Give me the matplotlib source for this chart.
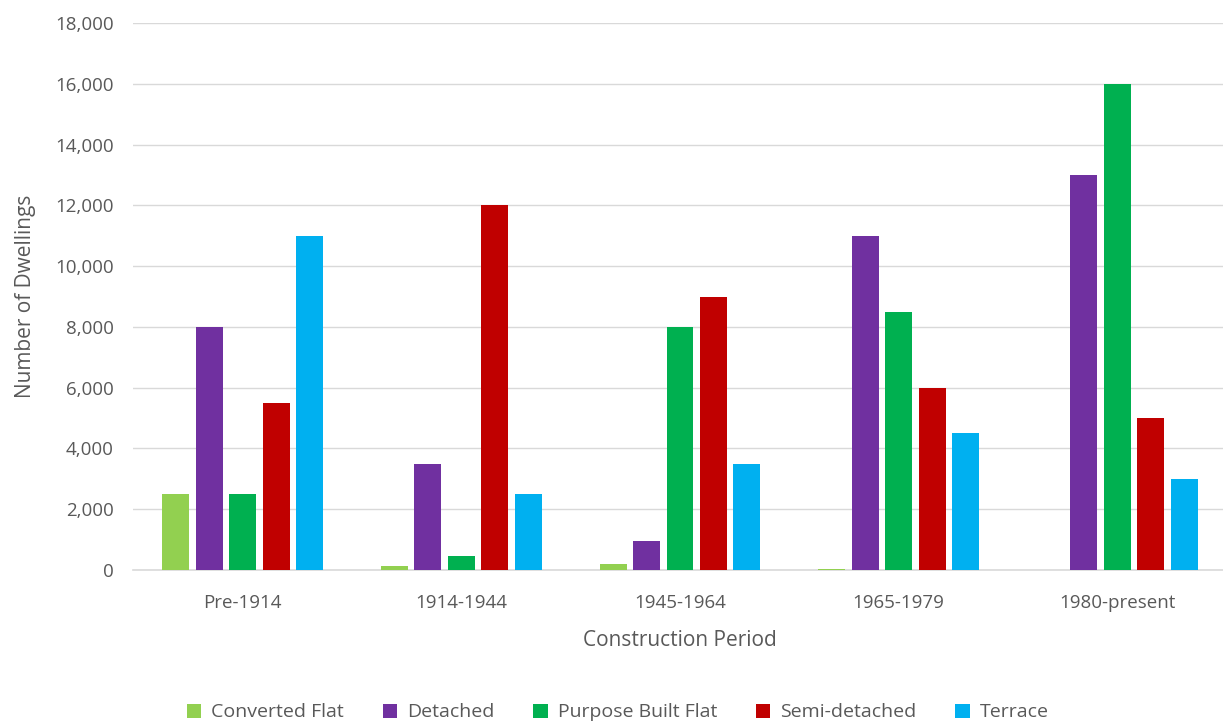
import matplotlib
matplotlib.use("Agg")
import matplotlib.pyplot as plt
import numpy as np
from matplotlib.ticker import FuncFormatter

periods = ["Pre-1914", "1914-1944", "1945-1964", "1965-1979", "1980-present"]
converted_flat = [2500, 130, 200, 30, 0]
detached = [8000, 3500, 950, 11000, 13000]
purpose_built_flat = [2500, 450, 8000, 8500, 16000]
semi_detached = [5500, 12000, 9000, 6000, 5000]
terrace = [11000, 2500, 3500, 4500, 3000]

series = [
    ("Converted Flat", converted_flat, "#92D050"),
    ("Detached", detached, "#7030A0"),
    ("Purpose Built Flat", purpose_built_flat, "#00B050"),
    ("Semi-detached", semi_detached, "#C00000"),
    ("Terrace", terrace, "#00B0F0"),
]

plt.rcParams["font.family"] = ["Open Sans", "DejaVu Sans"]
text_color = "#595959"

fig = plt.figure(figsize=(12.23, 7.23), dpi=100)
ax = fig.add_axes([0.109, 0.2116, 0.894, 0.7564])

x = np.arange(len(periods))
width = 0.123
step = 0.153
for i, (name, vals, color) in enumerate(series):
    ax.bar(x + (i - 2) * step, vals, width=width, color=color, label=name, zorder=3)

ax.set_xlim(-0.5, len(periods) - 0.5)
ax.set_ylim(0, 18000)
ax.set_yticks(np.arange(0, 18001, 2000))
ax.yaxis.set_major_formatter(FuncFormatter(lambda v, p: f"{int(v):,}"))
ax.set_xticks(x)
ax.set_xticklabels(periods)
ax.grid(axis="y", color="#D9D9D9", linewidth=1, zorder=0)
for s in ["top", "right", "left"]:
    ax.spines[s].set_visible(False)
ax.spines["bottom"].set_color("#D9D9D9")
ax.spines["bottom"].set_linewidth(1.2)
ax.tick_params(axis="both", length=0, labelsize=13.5, colors=text_color)
ax.tick_params(axis="y", pad=14)
ax.tick_params(axis="x", pad=17)

ax.set_ylabel("Number of Dwellings", fontsize=15, color=text_color, labelpad=14)
ax.set_xlabel("Construction Period", fontsize=15, color=text_color, labelpad=13)

fig.legend(loc="lower center", bbox_to_anchor=(0.505, -0.022), ncol=5, frameon=False,
           fontsize=14, labelcolor=text_color, handlelength=0.75, handleheight=0.75,
           handletextpad=0.5, columnspacing=2.0)

fig.savefig("out.png", dpi=100)
